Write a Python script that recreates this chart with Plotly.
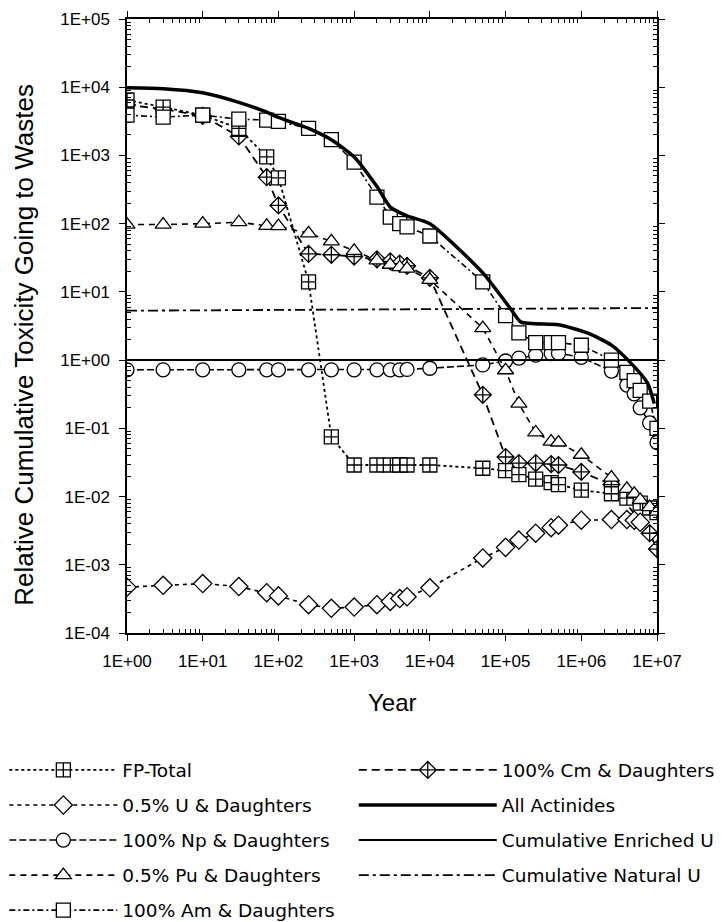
import plotly.graph_objects as go

# ---------------- data ----------------
years = [1, 3, 10, 30, 70, 100, 250, 500, 1e3, 2e3, 3e3, 4e3, 5e3, 1e4, 5e4, 1e5,
         1.5e5, 2.5e5, 4e5, 5e5, 1e6, 2.5e6, 4e6, 5e6, 6e6, 8e6, 1e7]

fp_total = [6500, 5100, 3900, 2500, 950, 470, 14, 0.075, 0.029, 0.029, 0.029, 0.029, 0.029, 0.029,
            0.026, 0.024, 0.021, 0.018, 0.016, 0.015, 0.0124, 0.011, 0.0095, None, 0.008, 0.0068, 0.0058]

u_05 = [4.7e-4, 5.0e-4, 5.3e-4, 4.8e-4, 3.9e-4, 3.5e-4, 2.6e-4, 2.3e-4, 2.4e-4, 2.6e-4, 2.9e-4, 3.2e-4,
        3.4e-4, 4.6e-4, 1.26e-3, 1.8e-3, 2.3e-3, 2.9e-3, 3.5e-3, 3.8e-3, 4.5e-3, 4.6e-3, 4.6e-3,
        4.5e-3, 4.2e-3, None, None]

np_100 = [0.72, 0.72, 0.72, 0.72, 0.72, 0.72, 0.72, 0.72, 0.72, 0.72, 0.72, 0.72, 0.73, 0.76,
          0.85, 0.97, 1.07, 1.18, 1.25, 1.26, 1.1, 0.69, 0.43, 0.32, 0.20, 0.12, 0.062]

pu_05 = [97, 97, 100, 105, 93, 92, 72, 55, 40, 29, 25, 23, 22, 15, 2.95, 0.71, 0.23, 0.087,
         0.064, 0.062, 0.041, 0.019, 0.013, 0.011, 0.0089, 0.007, 0.006]

am_100 = [3900, 3650, 3900, 3400, 3300, 3150, 2500, 1700, 800, 245, 125, 100, 90, 66, 14, 4.5,
          2.5, 1.8, 1.8, 1.8, 1.65, 1.0, 0.66, 0.5, 0.36, 0.25, 0.10]

cm_100 = [5500, 4800, 3800, 1900, 480, 185, 36, 35, 33, 30, 28, 26, 24, 16, 0.31, 0.038,
          0.031, 0.031, 0.030, 0.029, 0.023, 0.015, None, None, None, 0.0029, 0.0017]

aa_years = [1, 3, 10, 30, 70, 100, 250, 500, 1e3, 2e3, 3e3, 5e3, 1e4, 5e4, 1.2e5, 1.6e5,
            5e5, 1.2e6, 2.5e6, 4.5e6, 7.5e6, 9.2e6]
all_actinides = [9800, 9500, 8300, 6000, 4300, 3600, 2500, 1700, 950, 350, 175, 130, 100, 19,
                 5.4, 3.6, 3.3, 2.5, 1.66, 0.91, 0.46, 0.23]

ref_years = [1, 1e7]
enriched_u = [1.0, 1.0]
natural_u = [5.3, 5.8]

y_tickvals = [1e-4, 1e-3, 1e-2, 1e-1, 1, 1e1, 1e2, 1e3, 1e4, 1e5]
y_ticktext = ["1E-04", "1E-03", "1E-02", "1E-01", "1E+00", "1E+01", "1E+02", "1E+03", "1E+04", "1E+05"]
x_tickvals = [1, 1e1, 1e2, 1e3, 1e4, 1e5, 1e6, 1e7]
x_ticktext = ["1E+00", "1E+01", "1E+02", "1E+03", "1E+04", "1E+05", "1E+06", "1E+07"]

x_title = "Year"
y_title = "Relative Cumulative Toxicity Going to Wastes"

# minor tick positions (2..9 within each decade)
x_minor = [m * d for d in x_tickvals[:-1] for m in range(2, 10)]
y_minor = [m * d for d in y_tickvals[:-1] for m in range(2, 10)]

# ---------------- figure ----------------
fig = go.Figure()

def add_series(name, x, y, dash, width, symbol, size, legend, group):
    fig.add_trace(go.Scatter(
        x=x, y=y, name=name, mode="lines+markers",
        connectgaps=True, legend=legend, legendgroup=group,
        line=dict(color="black", width=width, dash=dash),
        marker=dict(symbol=symbol, size=size, color="white",
                    line=dict(color="black", width=1.3)),
    ))

# Cm drawn first so the other markers sit on top of it (as in the reference)
add_series("100% Cm & Daughters", years, cm_100, "8px,5px", 1.8, "diamond-cross", 13, "legend2", "f")
add_series("FP-Total", years, fp_total, "dot", 1.8, "square-cross", 14, "legend", "a")
add_series("0.5% U & Daughters", years, u_05, "4px,4px", 1.6, "diamond", 14, "legend", "b")
add_series("100% Np & Daughters", years, np_100, "7px,3px", 1.6, "circle", 14, "legend", "c")
add_series("0.5% Pu & Daughters", years, pu_05, "6px,5px", 1.6, "triangle-up", 14, "legend", "d")
add_series("100% Am & Daughters", years, am_100, "6px,3px,2px,3px", 1.6, "square", 14, "legend", "e")
fig.add_trace(go.Scatter(x=aa_years, y=all_actinides, name="All Actinides", mode="lines",
                         legend="legend2", legendgroup="g",
                         line=dict(color="black", width=3.5, shape="spline", smoothing=0.6)))
fig.add_trace(go.Scatter(x=ref_years, y=enriched_u, name="Cumulative Enriched U", mode="lines",
                         legend="legend2", legendgroup="h",
                         line=dict(color="black", width=2)))
fig.add_trace(go.Scatter(x=ref_years, y=natural_u, name="Cumulative Natural U", mode="lines",
                         legend="legend2", legendgroup="i",
                         line=dict(color="black", width=1.8, dash="10px,4px,3px,4px")))

axis_common = dict(
    type="log", showgrid=False, zeroline=False, showline=True, linecolor="black", linewidth=1.5,
    mirror="allticks", ticks="outside", ticklen=6, tickwidth=1.2, tickcolor="black",
    ticklabelstandoff=6,
    tickfont=dict(family="Liberation Sans, Arial", size=17, color="black"),
)

fig.update_xaxes(range=[0, 7], tickmode="array", tickvals=x_tickvals, ticktext=x_ticktext,
                 minor=dict(tickmode="array", tickvals=x_minor, ticks="inside", ticklen=4,
                            tickwidth=1, tickcolor="black", showgrid=False),
                 **axis_common)
fig.update_yaxes(range=[-4, 5], tickmode="array", tickvals=y_tickvals, ticktext=y_ticktext,
                 minor=dict(tickmode="array", tickvals=y_minor, ticks="inside", ticklen=4,
                            tickwidth=1, tickcolor="black", showgrid=False),
                 **axis_common)

fig.add_annotation(text=x_title, xref="paper", yref="paper", x=0.5, y=-0.114,
                   xanchor="center", yanchor="middle", showarrow=False,
                   font=dict(family="Liberation Sans, Arial", size=24, color="black"))
fig.add_annotation(text=y_title, xref="paper", yref="paper", x=-0.195, y=0.469,
                   xanchor="center", yanchor="middle", textangle=-90, showarrow=False,
                   font=dict(family="Liberation Sans, Arial", size=26, color="black"))

legend_font = dict(family="DejaVu Sans", size=18.5, color="black")
fig.update_layout(
    width=722, height=922,
    margin=dict(l=127, r=65, t=19, b=289, autoexpand=False),
    paper_bgcolor="white", plot_bgcolor="white",
    legend=dict(xref="container", yref="container", x=0.006, y=0.185, xanchor="left", yanchor="top",
                font=legend_font, itemwidth=108, tracegroupgap=8, bgcolor="rgba(0,0,0,0)"),
    legend2=dict(xref="container", yref="container", x=0.49, y=0.185, xanchor="left", yanchor="top",
                 font=legend_font, itemwidth=138, tracegroupgap=8, bgcolor="rgba(0,0,0,0)"),
)

fig.write_html("out.html")
